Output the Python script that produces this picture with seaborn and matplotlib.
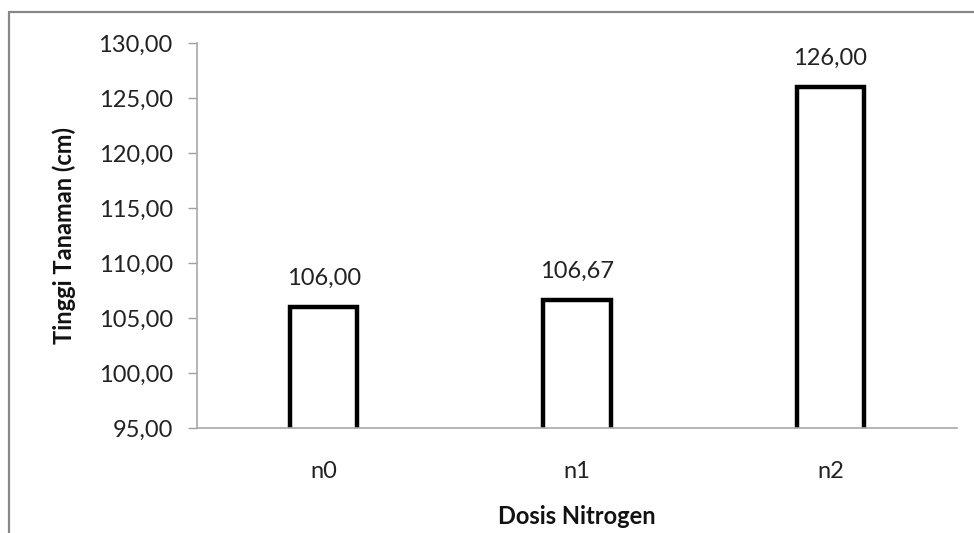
import matplotlib
matplotlib.use("Agg")
import matplotlib.pyplot as plt
import seaborn as sns
import pandas as pd
from matplotlib.lines import Line2D

categories = ["n0", "n1", "n2"]
values = [106.00, 106.67, 126.00]
value_labels = ["106,00", "106,67", "126,00"]
yticks = [95, 100, 105, 110, 115, 120, 125, 130]
ytick_labels = ["95,00", "100,00", "105,00", "110,00", "115,00", "120,00", "125,00", "130,00"]

sns.set_theme(style="white")
plt.rcParams['font.family'] = ['Lato', 'DejaVu Sans']

df = pd.DataFrame({"Dosis": categories, "Tinggi": values})

fig = plt.figure(figsize=(9.74, 5.33), dpi=100)
ax = fig.add_axes([197/974, 1 - 428/533, (957-197)/974, (428-43)/533])

sns.barplot(data=df, x="Dosis", y="Tinggi", ax=ax, color="white",
            edgecolor="black", linewidth=3.2, width=0.265, saturation=1)

ax.set_ylim(95, 130)
ax.set_yticks(yticks)
ax.set_yticklabels(ytick_labels, fontsize=17, color="#222222")
ax.set_xticks(range(len(categories)))
ax.set_xticklabels(categories, fontsize=17, color="#222222")

ax.tick_params(axis="y", length=6.5, width=1, color="#a0a0a0", pad=11, left=True)
ax.tick_params(axis="x", length=0, pad=24)

for s in ["top", "right"]:
    ax.spines[s].set_visible(False)
for s in ["left", "bottom"]:
    ax.spines[s].set_color("#a8a8a8")
    ax.spines[s].set_linewidth(1.2)

ax.set_ylabel("Tinggi Tanaman (cm)", fontsize=17, fontweight="bold", labelpad=16, color="#111111")
ax.set_xlabel("Dosis Nitrogen", fontsize=17, fontweight="bold", labelpad=16, color="#111111")

ax.bar_label(ax.containers[0], labels=value_labels, padding=13, fontsize=17, color="#222222")

# outer frame (top and left edges)
fig.add_artist(Line2D([9/974, 1], [1 - 12/533, 1 - 12/533], transform=fig.transFigure,
                      color="#888888", linewidth=1.6))
fig.add_artist(Line2D([9/974, 9/974], [0, 1 - 12/533], transform=fig.transFigure,
                      color="#888888", linewidth=1.6))

fig.savefig("out.png", dpi=100, facecolor="white")
